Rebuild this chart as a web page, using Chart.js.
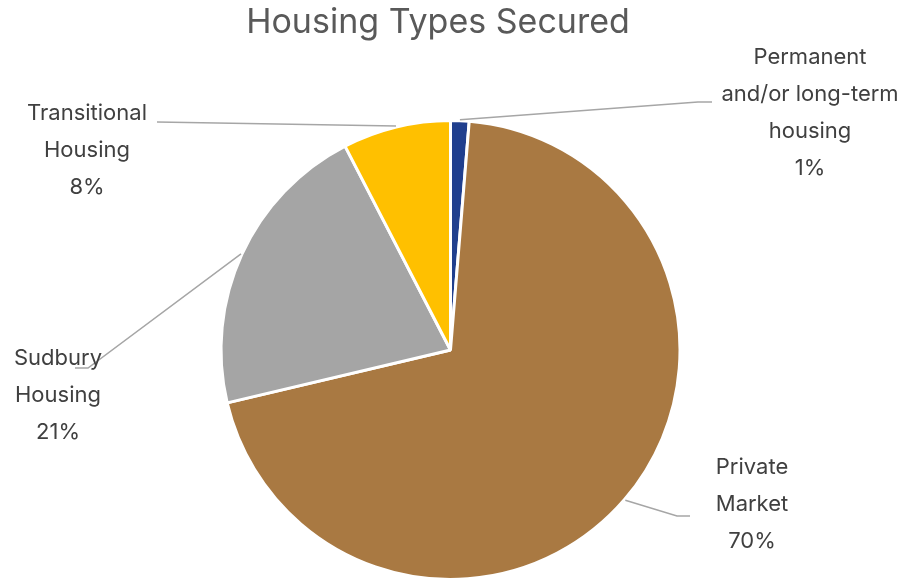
<!DOCTYPE html>
<html>
<head>
<meta charset="utf-8">
<script src="https://cdn.jsdelivr.net/npm/chart.js@4.4.1/dist/chart.umd.min.js"></script>
<style>
  html, body { margin: 0; padding: 0; background: #fff; }
  #wrap { position: relative; width: 910px; height: 581px; }
</style>
</head>
<body>
<div id="wrap"><canvas id="pieChart" width="910" height="581"></canvas></div>
<script>
const chartTitle = "Housing Types Secured";
const categories = [
  ["Permanent", "and/or long-term", "housing"],
  ["Private", "Market"],
  ["Sudbury", "Housing"],
  ["Transitional", "Housing"]
];
const shares = [1.3, 70.0, 21.1, 7.6];
const pctLabels = ["1%", "70%", "21%", "8%"];
const colors = ["#203F8E", "#A97942", "#A5A5A5", "#FFC000"];

// label anchor (centre of text block) and leader-line elbow, per slice
const labelPos = [
  { x: 810, y: 57, elbow: [698, 102], end: [712, 102] },
  { x: 752, y: 467, elbow: [677, 516], end: [690, 516] },
  { x: 58, y: 358, elbow: [88, 368], end: [75, 368] },
  { x: 87, y: 113, elbow: [157, 122], end: [157, 122] }
];

const FONT = "Inter, 'Open Sans', sans-serif";

const labelPlugin = {
  id: "outsideLabels",
  afterDatasetsDraw(chart) {
    const ctx = chart.ctx;
    const meta = chart.getDatasetMeta(0);
    ctx.save();
    // title
    ctx.fillStyle = "#595959";
    ctx.font = "34px " + FONT;
    ctx.textAlign = "center";
    ctx.textBaseline = "middle";
    ctx.fillText(chartTitle, 438, 23);

    meta.data.forEach((arc, i) => {
      const mid = (arc.startAngle + arc.endAngle) / 2;
      const r = arc.outerRadius + 1;
      const sx = arc.x + Math.cos(mid) * r;
      const sy = arc.y + Math.sin(mid) * r;
      const p = labelPos[i];
      ctx.strokeStyle = "#A6A6A6";
      ctx.lineWidth = 1.5;
      ctx.beginPath();
      ctx.moveTo(sx, sy);
      ctx.lineTo(p.elbow[0], p.elbow[1]);
      ctx.lineTo(p.end[0], p.end[1]);
      ctx.stroke();

      const lines = categories[i].concat([pctLabels[i]]);
      ctx.fillStyle = "#404040";
      ctx.font = "22px " + FONT;
      lines.forEach((t, j) => ctx.fillText(t, p.x, p.y + j * 37));
    });
    ctx.restore();
  }
};

new Chart(document.getElementById("pieChart"), {
  type: "pie",
  data: {
    labels: categories.map(c => c.join(" ")),
    datasets: [{
      data: shares,
      backgroundColor: colors,
      borderColor: "#ffffff",
      borderWidth: 3
    }]
  },
  options: {
    responsive: false,
    animation: false,
    layout: { padding: { top: 119, bottom: 0, left: 219, right: 228 } },
    plugins: {
      legend: { display: false },
      title: { display: false },
      tooltip: { enabled: false }
    }
  },
  plugins: [labelPlugin]
});
</script>
</body>
</html>
